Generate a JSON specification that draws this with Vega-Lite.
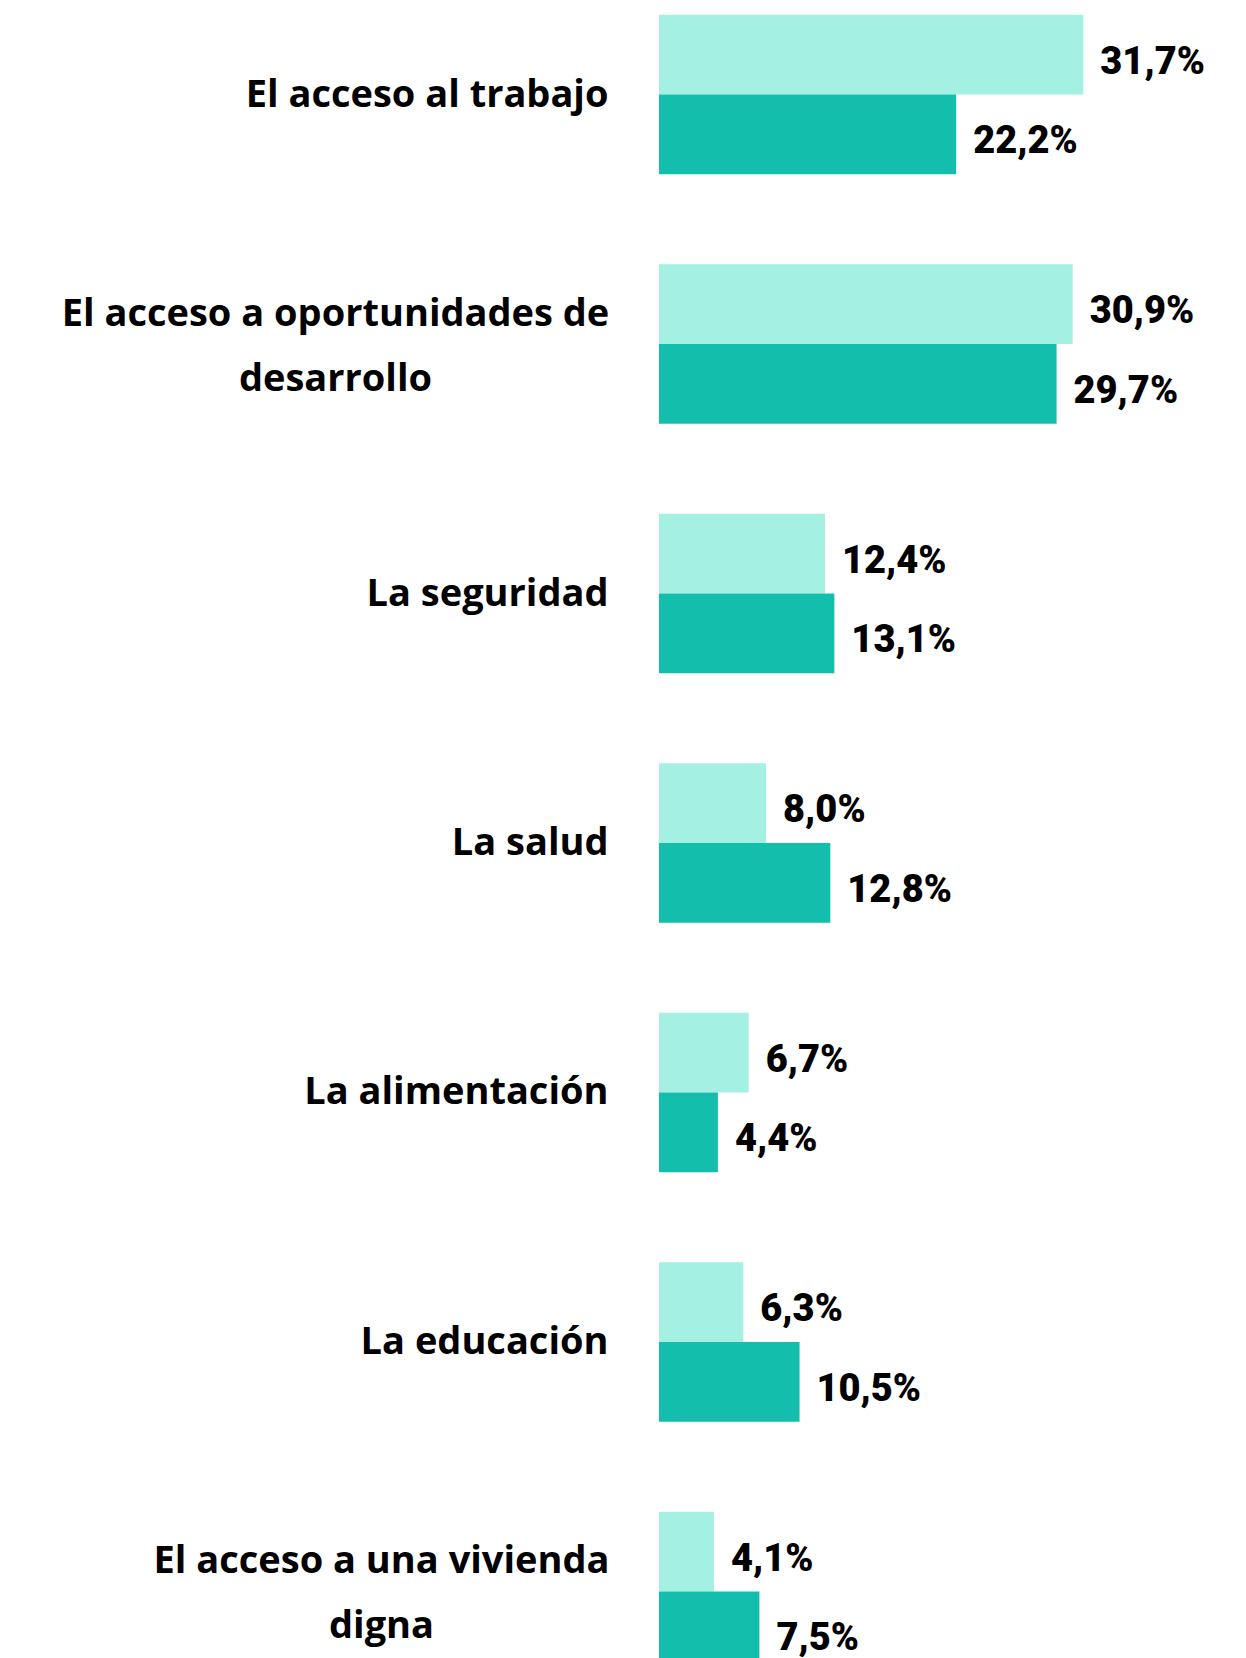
{
  "$schema": "https://vega.github.io/schema/vega-lite/v6.json",
  "autosize": {"type": "none"},
  "padding": {"left": 659, "top": 0, "right": 0, "bottom": 0},
  "width": 589,
  "height": 1686,
  "background": "#ffffff",
  "config": {
    "view": {"stroke": null},
    "locale": {"number": {"decimal": ",", "thousands": ".", "grouping": [3], "currency": ["", " €"]}}
  },
  "data": {
    "values": [
      {"categoria": "El acceso al trabajo", "serie": "Serie A", "valor": 0.317},
      {"categoria": "El acceso al trabajo", "serie": "Serie B", "valor": 0.222},
      {"categoria": "El acceso a oportunidades de desarrollo", "serie": "Serie A", "valor": 0.309},
      {"categoria": "El acceso a oportunidades de desarrollo", "serie": "Serie B", "valor": 0.297},
      {"categoria": "La seguridad", "serie": "Serie A", "valor": 0.124},
      {"categoria": "La seguridad", "serie": "Serie B", "valor": 0.131},
      {"categoria": "La salud", "serie": "Serie A", "valor": 0.080},
      {"categoria": "La salud", "serie": "Serie B", "valor": 0.128},
      {"categoria": "La alimentación", "serie": "Serie A", "valor": 0.067},
      {"categoria": "La alimentación", "serie": "Serie B", "valor": 0.044},
      {"categoria": "La educación", "serie": "Serie A", "valor": 0.063},
      {"categoria": "La educación", "serie": "Serie B", "valor": 0.105},
      {"categoria": "El acceso a una vivienda digna", "serie": "Serie A", "valor": 0.041},
      {"categoria": "El acceso a una vivienda digna", "serie": "Serie B", "valor": 0.075}
    ]
  },
  "encoding": {
    "y": {
      "field": "categoria",
      "type": "nominal",
      "sort": null,
      "scale": {"paddingInner": 0.3608, "paddingOuter": 0.0593},
      "axis": {
        "title": null,
        "domain": false,
        "ticks": false,
        "labelFont": "Open Sans",
        "labelFontWeight": "bold",
        "labelFontSize": 38,
        "labelColor": "#000000",
        "labelLimit": 0,
        "labelLineHeight": 65,
        "labelBaseline": "middle",
        "labelAlign": {"condition": {"test": "datum.value == 'El acceso a oportunidades de desarrollo' || datum.value == 'El acceso a una vivienda digna'", "value": "center"}, "value": "right"},
        "labelOffset": {"condition": {"test": "datum.value == 'El acceso a oportunidades de desarrollo' || datum.value == 'El acceso a una vivienda digna'", "value": -29}, "value": 1},
        "labelPadding": {"condition": [
          {"test": "datum.value == 'El acceso a oportunidades de desarrollo'", "value": 324},
          {"test": "datum.value == 'El acceso a una vivienda digna'", "value": 278}
        ], "value": 51},
        "labelExpr": "datum.value == 'El acceso a oportunidades de desarrollo' ? ['El acceso a oportunidades de', 'desarrollo'] : datum.value == 'El acceso a una vivienda digna' ? ['El acceso a una vivienda', 'digna'] : datum.value"
      }
    },
    "yOffset": {"field": "serie", "type": "nominal", "sort": ["Serie A", "Serie B"], "scale": {"paddingInner": 0, "paddingOuter": 0}},
    "x": {"field": "valor", "type": "quantitative", "scale": {"domain": [0, 0.44], "nice": false, "zero": true}, "axis": null}
  },
  "layer": [
    {
      "mark": {"type": "bar"},
      "encoding": {
        "color": {"field": "serie", "type": "nominal", "scale": {"domain": ["Serie A", "Serie B"], "range": ["#a4f0e2", "#13bfac"]}, "legend": null}
      }
    },
    {
      "mark": {"type": "text", "align": "left", "baseline": "middle", "dx": 17, "dy": 8, "font": "Roboto", "fontWeight": 900, "fontSize": 38, "color": "#000000"},
      "encoding": {
        "text": {"field": "valor", "type": "quantitative", "format": ".1%"}
      }
    }
  ]
}
